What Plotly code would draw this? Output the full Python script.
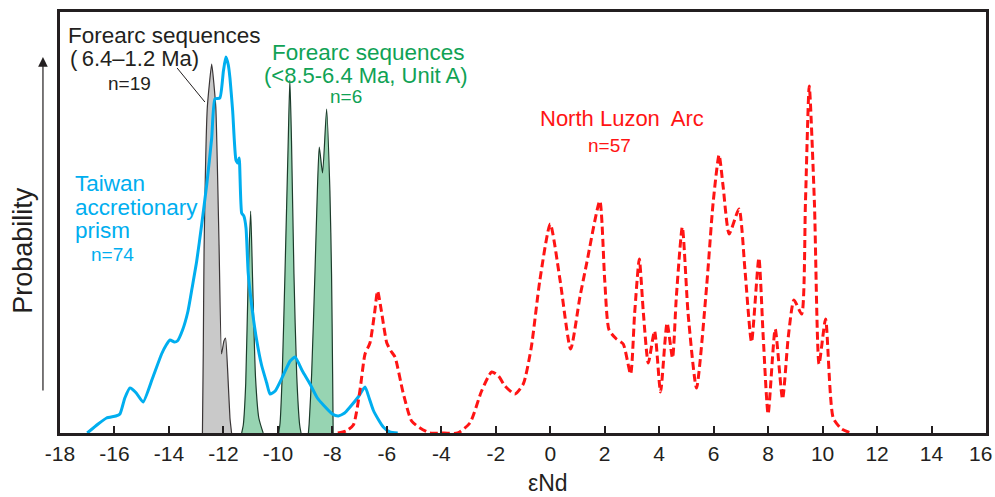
import plotly.graph_objects as go

# ---------------- data (eNd vs relative probability, arbitrary units) ----------------
taiwan_x = [-17.0, -16.6, -16.29, -15.95, -15.8, -15.62, -15.43, -15.2, -14.95, -14.6, -14.27, -14.1,
            -13.96, -13.8, -13.69, -13.5, -13.3, -13.15, -12.98, -12.8, -12.61, -12.43, -12.31, -12.13,
            -12.0, -11.91, -11.82, -11.76, -11.66, -11.54, -11.47, -11.42, -11.33, -11.25, -11.17, -11.09,
            -10.95, -10.78, -10.6, -10.41, -10.29, -10.1, -9.8, -9.55, -9.37, -9.1, -8.82, -8.55, -8.33,
            -8.0, -7.78, -7.55, -7.35, -7.05, -6.8, -6.65, -6.5, -6.3, -6.13, -5.89, -5.6]
taiwan_y = [0, 9, 15, 17, 19, 35, 45, 40, 31, 55, 79, 88,
            93, 91, 92, 103, 122, 145, 172, 208, 249, 295, 334, 335,
            362, 376, 368, 355, 322, 273, 270, 275, 220, 217, 205, 160,
            125, 93, 68, 50, 39, 42, 58, 72, 76, 62, 49, 35, 28,
            19, 17, 20, 26, 36, 46, 35, 23, 13, 6, 1, 0]

fa_old_x = [-12.77, -12.74, -12.71, -12.59, -12.43, -12.28, -12.16, -12.07, -11.98, -11.92, -11.84, -11.76, -11.7]
fa_old_y = [0, 80, 183, 326, 369, 326, 188, 79, 92, 95, 60, 15, 0]

fa_a_x = [-11.33, -11.27, -11.18, -11.09, -11.0, -10.93, -10.82, -10.7, -10.54,
          -9.97, -9.92, -9.84, -9.74, -9.62, -9.56, -9.5, -9.41, -9.31, -9.2, -9.15,
          -8.88, -8.85, -8.76, -8.64, -8.55, -8.48, -8.36, -8.21, -8.09, -8.03, -7.99, -7.97]
fa_a_y = [0, 8, 50, 155, 222, 155, 55, 15, 0,
          0, 10, 59, 159, 292, 353, 292, 159, 59, 8, 0,
          0, 10, 59, 159, 242, 286, 260, 324, 242, 159, 59, 0]
fa_a_groups = [9, 11, 12]   # number of points in each separate peak

luzon_x = [-7.8, -7.5, -7.23, -6.99, -6.8, -6.62, -6.45, -6.34, -6.2, -6.0, -5.85, -5.7, -5.4, -5.09,
           -4.78, -4.42, -3.9, -3.4, -2.95, -2.52, -2.15, -1.9, -1.66, -1.3, -0.99, -0.7, -0.38, 0.0,
           0.36, 0.75, 1.09, 1.34, 1.82, 2.0, 2.16, 2.43, 2.68, 2.95, 3.1, 3.27, 3.42, 3.6, 3.83, 4.05,
           4.29, 4.49, 4.63, 4.85, 5.06, 5.37, 5.74, 5.98, 6.2, 6.35, 6.57, 6.93, 7.15, 7.39, 7.66, 7.82,
           8.0, 8.26, 8.53, 8.74, 8.95, 9.23, 9.37, 9.51, 9.7, 9.87, 10.11, 10.39, 10.7, 11.05]
luzon_y = [0, 2, 8, 42, 79, 90, 120, 142, 122, 90, 82, 76, 40, 12,
           5, 0, 0, 0, 10, 42, 61, 57, 47, 39, 49, 85, 153, 209,
           153, 84, 136, 170, 232, 153, 103, 94, 89, 59, 120, 174, 120, 70, 102, 41,
           110, 75, 136, 206, 120, 45, 146, 230, 278, 246, 199, 224, 163, 91, 175, 96,
           19, 104, 34, 96, 133, 119, 230, 347, 230, 69, 114, 15, 4, 0]

tick_vals = list(range(-18, 17, 2))
tick_text = [str(v) for v in tick_vals]
tick_text[-1] = tick_text[-1] + "\u2002"   # keep the last label inside the page edge

label_text = ["Forearc sequences", "(\u20096.4\u20131.2 Ma)", "n=19",
              "Forearc sequences", "(<8.5-6.4 Ma, Unit A)", "n=6",
              "North Luzon  Arc", "n=57",
              "Taiwan", "accretionary", "prism", "n=74"]
label_x = [-14.18, -15.25, -15.43, -6.66, -6.77, -7.50, 2.65, 2.19, -17.52, -17.52, -17.52, -16.94]
label_y = [398, 375, 350, 381, 358, 337, 315, 288, 250, 226, 203, 179]

# ---------------- styling ----------------
FONT = "Liberation Sans, Arial, sans-serif"
DARK = "#231f20"
BLUE = "#00aeef"
RED = "#ff1414"
GREEN_TXT = "#10a255"
label_color = [DARK, DARK, DARK, GREEN_TXT, GREEN_TXT, GREEN_TXT, RED, RED, BLUE, BLUE, BLUE, BLUE]
label_size = [22.5, 22, 19, 22.5, 22, 19, 22, 19, 22.5, 22.5, 22.5, 19]
label_anchor = ["center"] * 8 + ["left"] * 4

fig = go.Figure()

# grey forearc (6.4-1.2 Ma)
fig.add_trace(go.Scatter(x=fa_old_x, y=fa_old_y, mode="lines", fill="toself",
                         fillcolor="#c9c9c9", line=dict(color="#3a3536", width=1.2, shape="spline", smoothing=0.4),
                         hoverinfo="skip", showlegend=False))

# green forearc Unit A (separate peaks)
start = 0
for n in fa_a_groups:
    fig.add_trace(go.Scatter(x=fa_a_x[start:start + n], y=fa_a_y[start:start + n], mode="lines",
                             fill="toself", fillcolor="#97d4b2",
                             line=dict(color="#1c3b2b", width=1.2, shape="spline", smoothing=0.6),
                             hoverinfo="skip", showlegend=False))
    start += n

# Taiwan accretionary prism
fig.add_trace(go.Scatter(x=taiwan_x, y=taiwan_y, mode="lines",
                         line=dict(color=BLUE, width=3, shape="spline", smoothing=0.5),
                         hoverinfo="skip", showlegend=False))

# North Luzon Arc
fig.add_trace(go.Scatter(x=luzon_x, y=luzon_y, mode="lines",
                         line=dict(color=RED, width=3, dash="8px,4px", shape="spline", smoothing=0.6),
                         hoverinfo="skip", showlegend=False))

for t, x, y, c, s, a in zip(label_text, label_x, label_y, label_color, label_size, label_anchor):
    fig.add_annotation(x=x, y=y, xref="x", yref="y", text=t, showarrow=False,
                       xanchor=a, yanchor="middle", font=dict(family=FONT, size=s, color=c))

# leader line for grey label
fig.add_shape(type="line", xref="x", yref="y", x0=-13.70, y0=365, x1=-12.68, y1=331,
              line=dict(color=DARK, width=1))

# Probability arrow + label
fig.add_annotation(xref="paper", yref="paper", x=-0.0184, y=0.893, ax=0, ay=335, text="",
                   showarrow=True, arrowhead=2, arrowsize=1.6, arrowwidth=1.2, arrowcolor=DARK)
fig.add_annotation(xref="paper", yref="paper", x=-0.040, y=0.435, text="Probability", textangle=-90,
                   showarrow=False, xanchor="center", yanchor="middle",
                   font=dict(family=FONT, size=27, color=DARK))
fig.add_annotation(xref="paper", yref="paper", x=0.527, y=-0.119, text="\u03b5Nd",
                   showarrow=False, xanchor="center", yanchor="middle",
                   font=dict(family=FONT, size=23, color=DARK))

fig.update_layout(
    width=995, height=497,
    margin=dict(l=60, r=9, t=12, b=64, autoexpand=False),
    paper_bgcolor="white", plot_bgcolor="white",
    xaxis=dict(range=[-18, 16], tickvals=tick_vals, ticktext=tick_text, automargin=False,
               ticklabeloverflow="allow",
               ticks="inside", ticklen=7, tickwidth=2, tickcolor=DARK,
               showline=True, mirror=True, linecolor=DARK, linewidth=3,
               showgrid=False, zeroline=False,
               tickfont=dict(family=FONT, size=21, color=DARK)),
    yaxis=dict(range=[0, 421], showticklabels=False, ticks="", automargin=False,
               showline=True, mirror=True, linecolor=DARK, linewidth=3,
               showgrid=False, zeroline=False),
)

fig.write_html("out.html", config={"displayModeBar": False},
               post_script="document.body.style.margin='0';document.body.style.overflow='hidden';")
